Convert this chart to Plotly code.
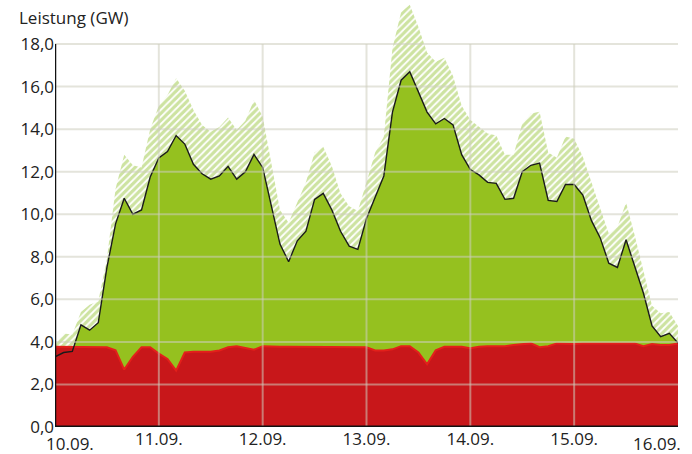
import plotly.graph_objects as go

# hours since 10.09. 00:00, 2-hour steps
hours = list(range(0, 145, 2))

# total generation (black line), GW
total = [3.3, 3.5, 3.55, 4.8, 4.55, 4.9, 7.5, 9.55, 10.75, 10.0, 10.2, 11.75,
         12.65, 12.95, 13.7, 13.3, 12.35, 11.9, 11.65, 11.8, 12.25, 11.65, 12.0, 12.81,
         12.2, 10.4, 8.6, 7.77, 8.75, 9.2, 10.7, 10.98, 10.2, 9.2, 8.5, 8.35,
         9.8, 10.8, 11.8, 14.8, 16.3, 16.7, 15.75, 14.8, 14.25, 14.5, 14.2, 12.8,
         12.1, 11.85, 11.5, 11.45, 10.7, 10.75, 12.0, 12.3, 12.4, 10.65, 10.6, 11.4,
         11.4, 10.9, 9.7, 8.9, 7.7, 7.5, 8.8, 7.6, 6.3, 4.75, 4.25, 4.4, 3.95]

# upper envelope (hatched area top), GW
upper = [3.85, 4.4, 4.35, 5.4, 5.75, 5.9, 7.9, 11.2, 12.8, 12.3, 12.2, 14.0,
         15.1, 15.6, 16.39, 15.8, 14.9, 14.2, 13.88, 14.1, 14.55, 13.96, 14.4, 15.37,
         14.6, 12.3, 10.2, 9.6, 10.55, 11.5, 12.9, 13.17, 12.25, 10.98, 10.38, 10.15,
         11.5, 12.9, 13.64, 17.8, 19.5, 19.85, 18.8, 17.6, 17.17, 17.35, 16.5, 15.1,
         14.43, 14.1, 13.8, 13.7, 12.8, 12.8, 14.27, 14.74, 14.82, 12.9, 12.65, 13.65,
         13.55, 12.7, 11.5, 10.4, 9.1, 9.4, 10.55, 9.0, 7.35, 5.7, 5.35, 5.4, 4.75]

# base load (red area), GW
base = [3.77, 3.77, 3.75, 3.75, 3.75, 3.75, 3.75, 3.6, 2.7, 3.3, 3.75, 3.75,
        3.45, 3.2, 2.65, 3.5, 3.54, 3.54, 3.54, 3.6, 3.75, 3.8, 3.7, 3.63,
        3.8, 3.77, 3.77, 3.77, 3.77, 3.77, 3.77, 3.77, 3.77, 3.77, 3.77, 3.77,
        3.75, 3.6, 3.6, 3.65, 3.8, 3.8, 3.5, 2.95, 3.6, 3.77, 3.77, 3.77,
        3.7, 3.77, 3.8, 3.8, 3.8, 3.85, 3.9, 3.93, 3.75, 3.8, 3.93, 3.9,
        3.9, 3.93, 3.93, 3.93, 3.93, 3.93, 3.93, 3.93, 3.8, 3.9, 3.85, 3.85, 3.93]

day_ticks = [0, 24, 48, 72, 96, 120, 144]
day_labels = ["10.09.", "11.09.", "12.09.", "13.09.", "14.09.", "15.09.", "16.09."]
y_ticks = [0, 2, 4, 6, 8, 10, 12, 14, 16, 18]
y_labels = ["0,0", "2,0", "4,0", "6,0", "8,0", "10,0", "12,0", "14,0", "16,0", "18,0"]

GREEN = "#95c11f"
RED = "#c8171a"
FONT = "Open Sans"
FS = 17

fig = go.Figure()
# invisible base for hatch
fig.add_trace(go.Scatter(x=hours, y=total, mode="lines", line=dict(width=0),
                         showlegend=False, hoverinfo="skip"))
fig.add_trace(go.Scatter(x=hours, y=upper, mode="lines", line=dict(width=0),
                         fill="tonexty", fillcolor="rgba(0,0,0,0)",
                         fillpattern=dict(shape="/", fgcolor="#9cc743", bgcolor="white",
                                          size=5, solidity=0.65),
                         showlegend=False))
fig.add_trace(go.Scatter(x=hours, y=total, mode="lines", line=dict(width=0),
                         fill="tozeroy", fillcolor=GREEN, showlegend=False))
fig.add_trace(go.Scatter(x=hours, y=base, mode="lines", line=dict(width=2, color="#e3201b"),
                         fill="tozeroy", fillcolor=RED, showlegend=False))
fig.add_trace(go.Scatter(x=hours, y=total, mode="lines", line=dict(width=1.4, color="#1a1a1a"),
                         showlegend=False))

shapes = []
for v in y_ticks[1:]:
    shapes.append(dict(type="line", xref="paper", x0=0, x1=1, y0=v, y1=v,
                       line=dict(color="rgba(205,205,190,0.55)", width=2), layer="above"))
for d in day_ticks[1:-1]:
    shapes.append(dict(type="line", yref="y", x0=d, x1=d, y0=0, y1=max(y_ticks),
                       line=dict(color="rgba(205,205,190,0.55)", width=2), layer="above"))
# y axis line (stops at 18)
shapes.append(dict(type="line", x0=0, x1=0, y0=0, y1=max(y_ticks),
                   line=dict(color="#111", width=2.5), layer="above"))
# x axis line
shapes.append(dict(type="line", xref="paper", x0=0, x1=1, y0=0, y1=0,
                   line=dict(color="#111", width=3), layer="above"))

annotations = [
    dict(text="Leistung (GW)", xref="paper", yref="paper", x=0, y=1,
         xanchor="left", yanchor="top", xshift=-38, yshift=-4, showarrow=False,
         font=dict(family=FONT, size=FS, color="#222")),
    dict(text=day_labels[0], x=day_ticks[0], y=0, yref="y", xanchor="left", yanchor="top",
         xshift=-11, yshift=-3, showarrow=False, font=dict(family=FONT, size=FS, color="#222")),
    dict(text=day_labels[-1], x=day_ticks[-1], y=0, yref="y", xanchor="right", yanchor="top",
         xshift=5, yshift=-3, showarrow=False, font=dict(family=FONT, size=FS, color="#222")),
]

fig.update_layout(
    width=692, height=454,
    margin=dict(l=55, r=14, t=0, b=27),
    plot_bgcolor="white", paper_bgcolor="white",
    shapes=shapes, annotations=annotations,
    font=dict(family=FONT, size=FS, color="#222"),
    xaxis=dict(range=[0, 144], tickvals=day_ticks[1:-1], ticktext=day_labels[1:-1],
               showgrid=False, zeroline=False, showline=False, ticks="",
               automargin=False, fixedrange=True),
    yaxis=dict(range=[0, 20.07], tickvals=y_ticks, ticktext=y_labels,
               showgrid=False, zeroline=False, showline=False, ticks="",
               automargin=False, fixedrange=True),
)

fig.write_html("out.html", config={"displayModeBar": False},
               post_script="document.body.style.margin='0';document.body.style.overflow='hidden';")
